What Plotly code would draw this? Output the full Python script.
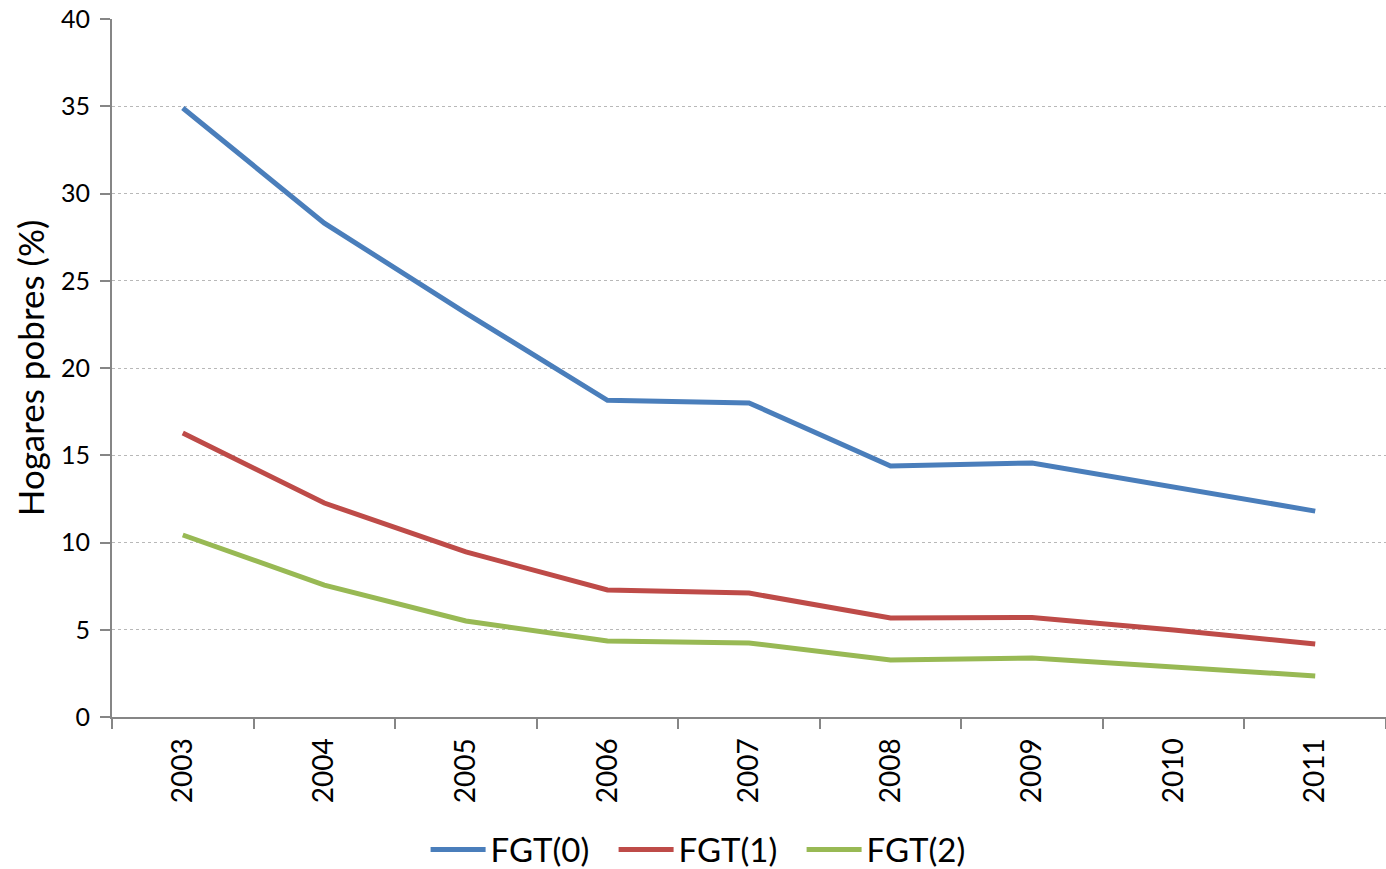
import plotly.graph_objects as go

years = ["2003", "2004", "2005", "2006", "2007", "2008", "2009", "2010", "2011"]
fgt0 = [34.9, 28.3, 23.15, 18.15, 18.0, 14.38, 14.56, 13.2, 11.8]
fgt1 = [16.27, 12.26, 9.46, 7.28, 7.1, 5.67, 5.7, 4.99, 4.18]
fgt2 = [10.43, 7.56, 5.5, 4.36, 4.24, 3.27, 3.38, 2.87, 2.35]

series = [("FGT(0)", fgt0, "#4A7EBB"), ("FGT(1)", fgt1, "#BE4B48"), ("FGT(2)", fgt2, "#98B954")]

fig = go.Figure()
for name, vals, col in series:
    fig.add_trace(go.Scatter(x=years, y=vals, name=name, mode="lines",
                             line=dict(color=col, width=5)))

font = "Lato, 'Open Sans', sans-serif"
fig.update_layout(
    width=1386, height=869,
    margin=dict(l=112, r=0, t=19, b=152, autoexpand=False),
    plot_bgcolor="white", paper_bgcolor="white",
    font=dict(family=font, color="black"),
    showlegend=True,
    legend=dict(orientation="h", x=0.4675, xanchor="center", y=-0.19, yanchor="middle",
                font=dict(size=33), itemwidth=55, entrywidth=118, entrywidthmode="pixels",
                tracegroupgap=0),
    xaxis=dict(type="category", range=[-0.5, 8.5], tickson="boundaries", automargin=False,
               ticks="outside", ticklen=10, tickcolor="#868686", tickwidth=2,
               showline=True, linecolor="#868686", linewidth=2, ticklabelstandoff=8,
               showgrid=False, tickangle=-90, tickfont=dict(size=28)),
    yaxis=dict(range=[0, 40], dtick=5, ticks="outside", ticklen=10, tickcolor="#868686",
               tickwidth=2, showline=True, linecolor="#868686", linewidth=2, automargin=False,
               showgrid=True, gridcolor="#B8B8B8", griddash="dot", gridwidth=1,
               zeroline=False, tickfont=dict(size=25), ticklabelstandoff=5,
               title=dict(text="Hogares pobres (%)", font=dict(size=35), standoff=6)),
)
fig.write_html(
    "out.html",
    config={"displayModeBar": False},
    post_script=("document.body.style.margin='0px';"
                 "document.body.style.overflow='hidden';"
                 "document.documentElement.style.overflow='hidden';"),
)
